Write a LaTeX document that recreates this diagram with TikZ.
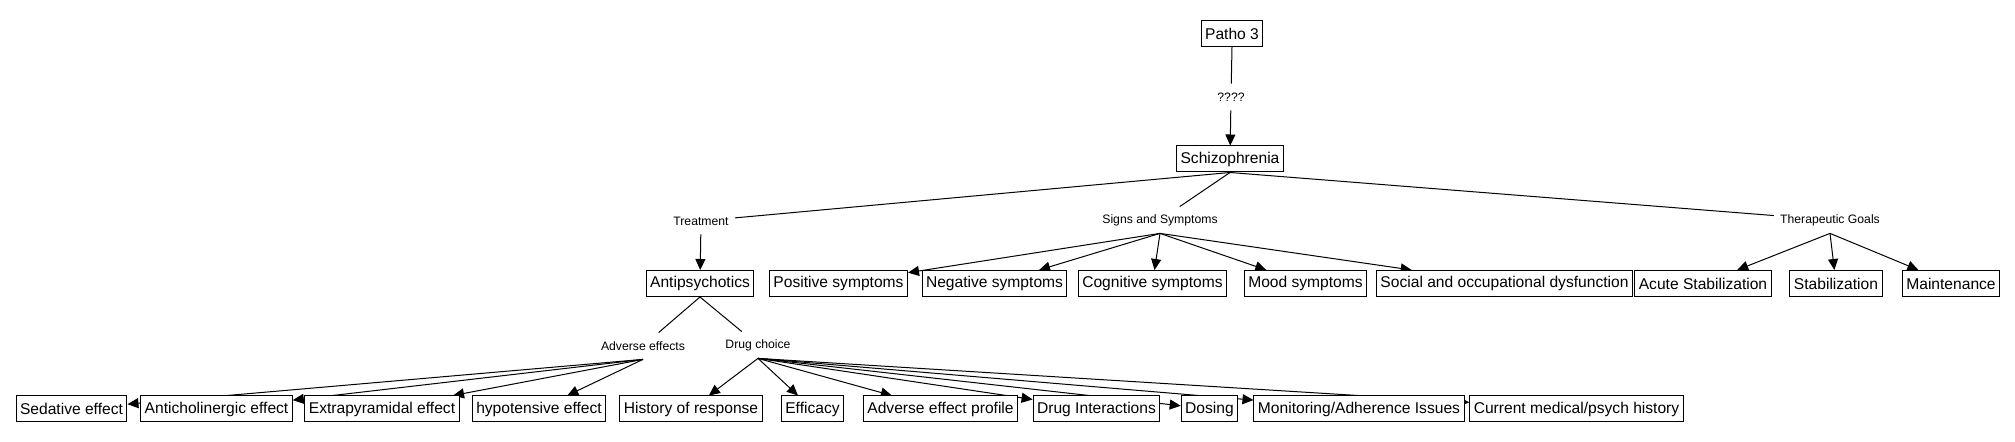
\documentclass[tikz,border=0pt]{standalone}
\usepackage{fontspec}
\setmainfont{Liberation Sans}
\usepackage{tikz}
\usetikzlibrary{arrows.meta}
\pgfdeclarelayer{links}
\pgfsetlayers{links,main}
\tikzset{
    concept/.style={
                draw=black,
                fill=white,
                line width=0.5pt,
                inner xsep=2pt,
                inner ysep=0pt,
                minimum height=13pt,
                font=\fontsize{7.8}{9}\selectfont
            },
    phrase/.style={
                inner xsep=3pt,
                inner ysep=0pt,
                minimum height=13pt,
                font=\fontsize{6.1}{7}\selectfont
            },
    link/.style={line width=0.5pt},
    arc/.style={line width=0.5pt,-{Triangle[length=5.5pt,width=5pt]}},
}

\begin{document}
\begin{tikzpicture}[x=0.5pt,y=-0.5pt]
\useasboundingbox (0,0) rectangle (2015,442);
% Topic
\node[concept] (patho) at (1232,33.5) {Patho 3};
\node[phrase] (q) at (1231,97) {????};
\node[concept] (schizo) at (1230,159) {Schizophrenia};
% Linking phrases
\node[phrase] (treat) at (701,221) {Treatment};
\node[phrase] (signs) at (1160,220) {Signs and Symptoms};
\node[phrase] (goals) at (1830,220) {Therapeutic Goals};
\node[phrase] (adv) at (643,346) {Adverse effects};
\node[phrase] (dc) at (758,345) {Drug choice};
% First row
\node[concept] (antip) at (700,283.5) {Antipsychotics};
\node[concept] (pos) at (838.5,283.5) {Positive symptoms};
\node[concept] (neg) at (994.5,283.5) {Negative symptoms};
\node[concept] (cog) at (1152.5,283.5) {Cognitive symptoms};
\node[concept] (mood) at (1305.5,283.5) {Mood symptoms};
\node[concept] (social) at (1504.5,283.5) {Social and occupational dysfunction};
\node[concept] (acute) at (1703,283.5) {Acute Stabilization};
\node[concept] (stab) at (1836,283.5) {Stabilization};
\node[concept] (maint) at (1951,283.5) {Maintenance};
% Second row
\node[concept] (sed) at (71.5,409) {Sedative effect};
\node[concept] (antichol) at (216.5,409) {Anticholinergic effect};
\node[concept] (extra) at (382,409) {Extrapyramidal effect};
\node[concept] (hypo) at (539,409) {hypotensive effect};
\node[concept] (hist) at (691,409) {History of response};
\node[concept] (eff) at (812.5,409) {Efficacy};
\node[concept] (aep) at (940.5,409) {Adverse effect profile};
\node[concept] (di) at (1096.5,409) {Drug Interactions};
\node[concept] (dos) at (1209.5,409) {Dosing};
\node[concept] (mon) at (1359,409) {Monitoring/Adherence Issues};
\node[concept] (cur) at (1576.5,409) {Current medical/psych history};
% Connectors
\begin{pgfonlayer}{links}
\draw[link] (patho.south) -- (q);
\draw[arc] (q) -- (schizo);
\foreach \p in {treat,signs,goals}
    \draw[link] (schizo.south) -- (\p);
\draw[arc] (treat) -- (antip);
\foreach \c in {pos,neg,cog,mood,social}
    \draw[arc] (signs.south) -- (\c);
\foreach \c in {acute,stab,maint}
    \draw[arc] (goals.south) -- (\c);
\foreach \p in {adv,dc}
    \draw[link] (antip.south) -- (\p);
\foreach \c in {sed,antichol,extra,hypo}
    \draw[arc] (adv.south) -- (\c);
\foreach \c in {hist,eff,aep,di,dos,mon,cur}
    \draw[arc] (dc.south) -- (\c);
\end{pgfonlayer}
\end{tikzpicture}
\end{document}
